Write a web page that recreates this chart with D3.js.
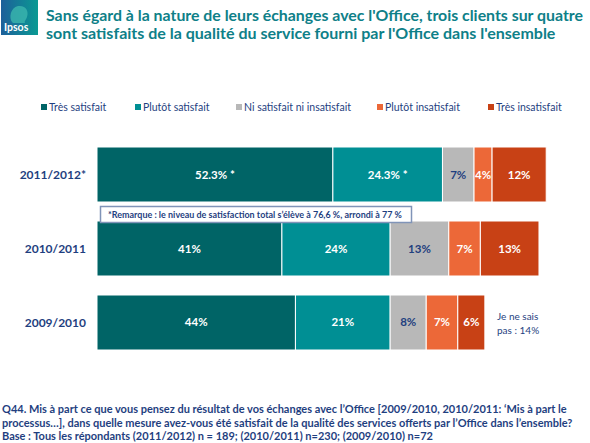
<!DOCTYPE html>
<html><head><meta charset="utf-8">
<script src="https://cdn.jsdelivr.net/npm/d3@7"></script>
<style>html,body{margin:0;padding:0;background:#fff}svg{display:block}</style>
</head><body><svg id="c" width="590" height="443"></svg>
<script>
const years = ["2011/2012*", "2010/2011", "2009/2010"];
const seriesNames = ["Très satisfait", "Plutôt satisfait", "Ni satisfait ni insatisfait", "Plutôt insatisfait", "Très insatisfait"];
const tresSatisfait = [52.3, 41, 44];
const plutotSatisfait = [24.3, 24, 21];
const niSatisfait = [7, 13, 8];
const plutotInsatisfait = [4, 7, 7];
const tresInsatisfait = [12, 13, 6];
const labelsTresSat = ["52.3% *", "41%", "44%"];
const labelsPlutotSat = ["24.3% *", "24%", "21%"];
const labelsNi = ["7%", "13%", "8%"];
const labelsPlutotIns = ["4%", "7%", "7%"];
const labelsTresIns = ["12%", "13%", "6%"];
const colors = ["#006466", "#008f94", "#b8b8b8", "#ec6838", "#c84115"];
const labelColors = ["#ffffff", "#ffffff", "#1f3f7f", "#ffffff", "#ffffff"];
const titleLines = ["Sans égard à la nature de leurs échanges avec l'Office, trois clients sur quatre",
  "sont satisfaits de la qualité du service fourni par l'Office dans l'ensemble"];
const noteLines = ["Q44. Mis à part ce que vous pensez du résultat de vos échanges avec l’Office [2009/2010, 2010/2011: ‘Mis à part le",
  "processus…], dans quelle mesure avez-vous été satisfait de la qualité des services offerts par l’Office dans l’ensemble?",
  "Base : Tous les répondants (2011/2012) n = 189; (2010/2011) n=230; (2009/2010) n=72"];
const remarkText = "*Remarque :  le niveau de satisfaction total s’élève à 76,6 %,  arrondi à 77 %";
const nspLines = ["Je ne sais", "pas :  14%"];

const values = [tresSatisfait, plutotSatisfait, niSatisfait, plutotInsatisfait, tresInsatisfait];
const labels = [labelsTresSat, labelsPlutotSat, labelsNi, labelsPlutotIns, labelsTresIns];
const FONT = "Lato, 'Open Sans', sans-serif";

const svg = d3.select("#c");

function fitSize(sel, target, maxSize) {
  const w = sel.node().getComputedTextLength();
  const fs = +sel.attr("font-size");
  let nfs = fs * target / w;
  if (maxSize && nfs > maxSize) nfs = maxSize;
  return nfs;
}

// Logo
const defs = svg.append("defs");
const g1 = defs.append("linearGradient").attr("id", "lg").attr("x1", 0).attr("x2", 1).attr("y1", 0).attr("y2", 0);
g1.append("stop").attr("offset", "0%").attr("stop-color", "#1d5f9a");
g1.append("stop").attr("offset", "100%").attr("stop-color", "#0a9a93");
svg.append("rect").attr("x", 1).attr("y", 0).attr("width", 37).attr("height", 35).attr("fill", "url(#lg)");
svg.append("path").attr("d", "M12,22 C9,18 10,8 18,6 C26,5 29,11 27,17 C26,20 24,21 25,23 L13,23 Z").attr("fill", "#3bb6ae").attr("opacity", 0.8);
svg.append("text").attr("x", 4).attr("y", 31).attr("fill", "#fff").attr("font-family", FONT).attr("font-weight", "bold").attr("font-size", 10.5).text("Ipsos");

// Title
const titleEnds = [583, 556];
titleLines.forEach((t, i) => {
  const s = svg.append("text").attr("x", 46).attr("y", 21 + i * 18).attr("fill", "#0e8088")
    .attr("font-family", FONT).attr("font-weight", "bold").attr("font-size", 16.5).text(t);
  s.attr("font-size", fitSize(s, titleEnds[i] - 46, 17.5).toFixed(2));
});

// Legend
const legX = [41, 135, 236, 377, 488];
seriesNames.forEach((n, i) => {
  svg.append("rect").attr("x", legX[i]).attr("y", 104).attr("width", 6).attr("height", 6).attr("fill", colors[i]);
  svg.append("text").attr("x", legX[i] + 8).attr("y", 110.5).attr("fill", "#1f3f7f")
    .attr("font-family", FONT).attr("font-size", 10.5).text(n);
});

// Scales
const x = d3.scaleLinear().domain([0, 100]).range([97, 548]);
const y = d3.scaleBand().domain(years).range([128, 369]).padding(0.2568);

// Bars
years.forEach((yr, r) => {
  let acc = 0;
  values.forEach((s, k) => {
    const v = s[r];
    const x0 = x(acc), x1 = x(acc + v);
    svg.append("rect").attr("x", x0).attr("y", y(yr)).attr("width", x1 - x0).attr("height", y.bandwidth())
      .attr("fill", colors[k]).attr("stroke", "#ffffff").attr("stroke-width", 1);
    svg.append("text").attr("x", (x0 + x1) / 2).attr("y", y(yr) + y.bandwidth() / 2 + 4)
      .attr("text-anchor", "middle").attr("fill", labelColors[k])
      .attr("font-family", FONT).attr("font-weight", "bold").attr("font-size", 11.5).text(labels[k][r]);
    acc += v;
  });
  svg.append("text").attr("x", 86).attr("y", y(yr) + y.bandwidth() / 2 + 4.5).attr("text-anchor", "end")
    .attr("fill", "#1f3f7f").attr("font-family", FONT).attr("font-weight", "bold").attr("font-size", 12).text(yr);
});

// Remark box
svg.append("rect").attr("x", 100.5).attr("y", 206.5).attr("width", 311).attr("height", 16)
  .attr("fill", "#fff").attr("stroke", "#8094b8").attr("stroke-width", 1.5);
const rm = svg.append("text").attr("x", 108).attr("y", 218).attr("fill", "#1f3f7f").attr("font-family", FONT)
  .attr("font-weight", "bold").attr("font-size", 9).text(remarkText);
rm.attr("font-size", fitSize(rm, 294, 9.5).toFixed(2));

// Je ne sais pas
const lastRow = years[2];
nspLines.forEach((t, i) => {
  svg.append("text").attr("x", 497).attr("y", y(lastRow) + 25 + i * 14).attr("fill", "#1f3f7f")
    .attr("font-family", FONT).attr("font-size", 10).text(t);
});

// Footnote (common size for all lines)
const noteEnds = [567, 586];
const notes = noteLines.map((t, i) => svg.append("text").attr("x", 2).attr("y", 413 + i * 13.5).attr("fill", "#1f3f7f")
  .attr("font-family", FONT).attr("font-weight", "bold").attr("font-size", 11.5).text(t));
const noteSize = Math.min(fitSize(notes[0], noteEnds[0] - 2, 12), fitSize(notes[1], noteEnds[1] - 2, 12));
notes.forEach(s => s.attr("font-size", noteSize.toFixed(2)));
</script></body></html>
